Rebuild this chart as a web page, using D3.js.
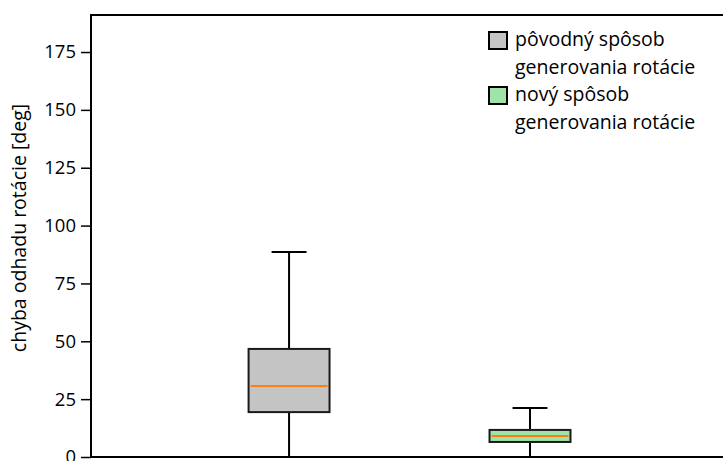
<!DOCTYPE html>
<html>
<head>
<meta charset="utf-8">
<script src="https://d3js.org/d3.v7.min.js"></script>
<style>
body { margin: 0; background: #fff; }
svg { display: block; font-family: "Open Sans", sans-serif; }
</style>
</head>
<body>
<svg width="723" height="461"></svg>
<script>

// box statistics (deg)
let positions = [1, 2];
let whiskerLow = [0, 0];
let q1 = [19.4, 6.5];
let median = [30.7, 9.1];
let q3 = [46.7, 11.7];
let whiskerHigh = [88.6, 21.2];
let boxFills = ["#c4c4c4", "#a0e3a8"];
let legendLines = [["pôvodný spôsob", "generovania rotácie"], ["nový spôsob", "generovania rotácie"]];
let yTicks = [0, 25, 50, 75, 100, 125, 150, 175];

let svg = d3.select("svg");
let plotLeft = 91, plotTop = 15, plotRight = 723, plotBottom = 457;

let y = d3.scaleLinear().domain([0, 191]).range([plotBottom, plotTop]);
let x = d3.scaleLinear().domain([0.178, 2.801]).range([plotLeft, plotRight]);
let boxW = 0.336, capW = 0.145;

// frame: top and left
svg.append("path")
  .attr("d", "M" + plotLeft + "," + plotBottom + "V" + plotTop + "H" + plotRight)
  .attr("fill", "none").attr("stroke", "black").attr("stroke-width", 2);
svg.append("line")
  .attr("x1", plotLeft).attr("x2", plotRight).attr("y1", plotBottom).attr("y2", plotBottom)
  .attr("stroke", "black").attr("stroke-width", 2);

let yAxis = svg.append("g")
  .attr("transform", "translate(" + plotLeft + ",0)")
  .call(d3.axisLeft(y).tickValues(yTicks).tickSize(10).tickPadding(5));
yAxis.select(".domain").remove();
yAxis.selectAll("line").attr("stroke-width", 1.5);
yAxis.selectAll("text").attr("font-size", 18.5).attr("font-family", "Open Sans, sans-serif").attr("fill", "#000");

svg.append("text")
  .attr("transform", "translate(26,228) rotate(-90)")
  .attr("text-anchor", "middle")
  .attr("font-size", 19.5)
  .attr("fill", "#000")
  .text("chyba odhadu rotácie [deg]");

let boxes = svg.selectAll(".box").data(positions).enter().append("g").attr("class", "box");

boxes.append("line")
  .attr("x1", d => x(d)).attr("x2", d => x(d))
  .attr("y1", (d, i) => y(whiskerLow[i])).attr("y2", (d, i) => y(q1[i]))
  .attr("stroke", "black").attr("stroke-width", 2);
boxes.append("line")
  .attr("x1", d => x(d)).attr("x2", d => x(d))
  .attr("y1", (d, i) => y(q3[i])).attr("y2", (d, i) => y(whiskerHigh[i]))
  .attr("stroke", "black").attr("stroke-width", 2);
boxes.append("line")
  .attr("x1", d => x(d - capW / 2)).attr("x2", d => x(d + capW / 2))
  .attr("y1", (d, i) => y(whiskerHigh[i])).attr("y2", (d, i) => y(whiskerHigh[i]))
  .attr("stroke", "black").attr("stroke-width", 2);
boxes.append("line")
  .attr("x1", d => x(d - capW / 2)).attr("x2", d => x(d + capW / 2))
  .attr("y1", (d, i) => y(whiskerLow[i])).attr("y2", (d, i) => y(whiskerLow[i]))
  .attr("stroke", "black").attr("stroke-width", 2);
boxes.append("rect")
  .attr("x", d => x(d - boxW / 2))
  .attr("width", x(boxW) - x(0))
  .attr("y", (d, i) => y(q3[i]))
  .attr("height", (d, i) => y(q1[i]) - y(q3[i]))
  .attr("fill", (d, i) => boxFills[i])
  .attr("stroke", "#1a1a1a").attr("stroke-width", 2);
boxes.append("line")
  .attr("x1", d => x(d - boxW / 2) + 2).attr("x2", d => x(d + boxW / 2) - 2)
  .attr("y1", (d, i) => y(median[i])).attr("y2", (d, i) => y(median[i]))
  .attr("stroke", "#ff7f0e").attr("stroke-width", 2);

// legend
let legend = svg.selectAll(".leg").data(legendLines).enter().append("g")
  .attr("class", "leg")
  .attr("transform", (d, i) => "translate(489," + (32 + i * 55) + ")");
legend.append("rect")
  .attr("width", 18).attr("height", 17)
  .attr("fill", (d, i) => boxFills[i])
  .attr("stroke", "black").attr("stroke-width", 2);
legend.append("text")
  .attr("x", 26).attr("y", 14)
  .attr("font-size", 19.5).attr("fill", "#000")
  .selectAll("tspan").data(d => d).enter().append("tspan")
  .attr("x", 26).attr("dy", (d, i) => i ? 28 : 0)
  .text(d => d);

</script>
</body>
</html>
